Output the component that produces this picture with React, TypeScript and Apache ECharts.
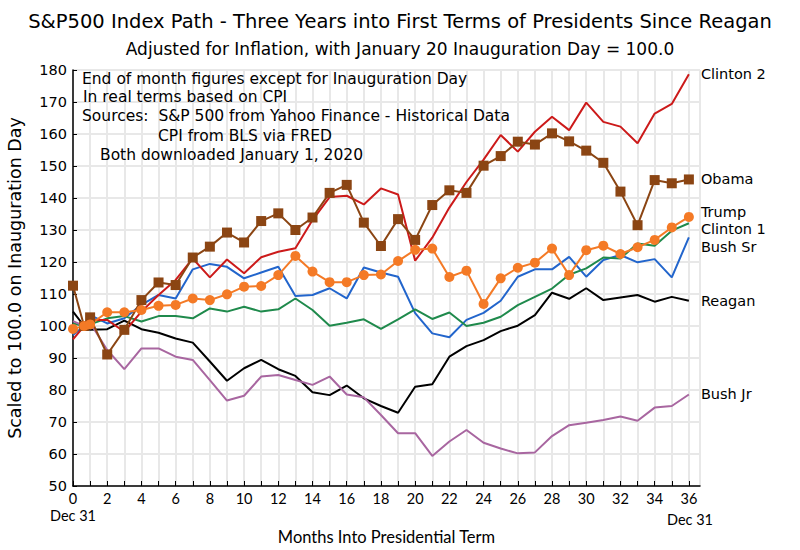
import React, { useEffect, useRef } from "react";
import * as echarts from "echarts";

const months = [0, 0.65, 1, 2, 3, 4, 5, 6, 7, 8, 9, 10, 11, 12, 13, 14, 15, 16, 17, 18, 19, 20, 21, 22, 23, 24, 25, 26, 27, 28, 29, 30, 31, 32, 33, 34, 35, 36];

const reagan = [104.5, 100, 98.8, 99, 101.7, 99, 97.9, 96.1, 94.8, 88.9, 82.9, 86.8, 89.4, 86.5, 84.4, 79.3, 78.4, 81.4, 77.4, 75, 72.9, 81, 81.8, 90.4, 93.7, 95.6, 98.4, 100.1, 103.4, 110.4, 108.5, 111.8, 108.1, 108.9, 109.7, 107.6, 109.1, 107.9];
const bushSr = [97.2, 100, 103.4, 100.8, 102.4, 106.6, 109.7, 108.6, 117.7, 119.4, 118.5, 114.9, 116.7, 118.5, 109.4, 109.7, 111.8, 108.6, 118.3, 116.7, 115.4, 104, 97.7, 96.5, 101.9, 104.1, 107.9, 115.4, 117.7, 117.7, 121.6, 115.4, 120.6, 122.2, 119.9, 120.9, 115.2, 127.7];
const clinton1 = [100.8, 100, 100.5, 102.4, 103.1, 101.4, 103.1, 103.1, 102.4, 105.5, 104.5, 106, 104.5, 105.2, 108.6, 105, 100.1, 101, 102.1, 99.1, 102.1, 105.2, 102.2, 104.2, 100, 101, 102.9, 106.5, 109.1, 111.7, 116, 118, 121.4, 121.1, 125.8, 125.1, 129.8, 132.1];
const clinton2 = [95.8, 100, 101.9, 101.9, 98.2, 104.5, 109.7, 114.4, 121.1, 115.2, 120.8, 116.5, 121.5, 123.2, 124.3, 133.1, 140.3, 140.7, 138, 143, 141.1, 120.4, 127.6, 137, 145, 152, 159.7, 154.5, 160.7, 165.4, 161.2, 169.8, 163.8, 162.3, 157.1, 166.4, 169.4, 178.7];
const bushJr = [101.5, 100, 101, 92.5, 86.5, 93, 93, 90.4, 89.4, 83.1, 76.7, 78.2, 84.2, 84.7, 83.1, 81.6, 84.2, 78.6, 77.7, 72.2, 66.5, 66.5, 59.4, 63.9, 67.5, 63.5, 61.7, 60.2, 60.5, 65.6, 69, 69.8, 70.6, 71.7, 70.4, 74.5, 75, 78.6];
const obama = [112.6, 100, 102.7, 91.1, 98.8, 108.1, 113.6, 112.8, 121.4, 124.8, 129.2, 126.1, 132.8, 135.2, 130, 133.9, 141.6, 144.1, 132.3, 125, 133.4, 126.9, 137.8, 142.4, 141.6, 150.1, 153.1, 157.6, 156.7, 160.2, 157.7, 154.8, 151, 142, 131.5, 145.6, 144.6, 145.8];
const trump = [99.1, 100, 100.5, 104.3, 104.3, 105, 106.3, 106.6, 108.6, 108.1, 109.9, 112.3, 112.5, 115.9, 121.9, 117, 113.7, 113.7, 115.9, 116.1, 120.3, 123.8, 124.2, 115.3, 117.3, 106.9, 114.9, 118.2, 119.8, 124.2, 115.9, 123.7, 125.1, 122.5, 124.6, 126.9, 130.8, 134.1];

const seriesNames = ["Reagan", "Bush Sr", "Clinton 1", "Clinton 2", "Bush Jr", "Obama", "Trump"];
const annotationLines = [
  "End of month figures except for Inauguration Day",
  "In real terms based on CPI",
  "Sources:  S&P 500 from Yahoo Finance - Historical Data",
  "CPI from BLS via FRED",
  "Both downloaded January 1, 2020",
];
const dateNotes = ["Dec 31", "Dec 31"];

const FONT = "DejaVu Sans";
const NARROW = "Lato";

export default function App() {
  const ref = useRef<HTMLDivElement>(null);
  useEffect(() => {
    if (!ref.current) return;
    const chart = echarts.init(ref.current, null, { renderer: "svg" });
    const pts = (vals: number[]) => months.map((m, i) => [m, vals[i]]);
    const mk = (name: string, vals: number[], color: string, extra: any = {}, labelOffset = [0, 0]) => ({
      name,
      type: "line",
      data: pts(vals),
      showSymbol: false,
      symbol: "none",
      lineStyle: { color, width: 2 },
      itemStyle: { color },
      endLabel: {
        show: true,
        formatter: name,
        color: "#000",
        fontFamily: FONT,
        fontSize: 14.5,
        lineHeight: 15,
        distance: 12,
        offset: labelOffset,
      },
      emphasis: { disabled: true },
      ...extra,
    });
    const option: any = {
      animation: false,
      backgroundColor: "#fff",
      textStyle: { fontFamily: FONT },
      title: [
        {
          text: "S&P500 Index Path - Three Years into First Terms of Presidents Since Reagan",
          left: "center",
          top: 6,
          textStyle: { fontFamily: FONT, fontSize: 19.5, fontWeight: "normal", color: "#000" },
        },
        {
          text: "Adjusted for Inflation, with January 20 Inauguration Day = 100.0",
          left: "center",
          top: 35,
          textStyle: { fontFamily: FONT, fontSize: 17, fontWeight: "normal", color: "#000" },
        },
      ],
      grid: { left: 73, right: 100, top: 70, bottom: 64, containLabel: false, outerBoundsMode: "none" },
      xAxis: {
        type: "value",
        min: 0,
        max: 36.65,
        interval: 1,
        name: "Months Into Presidential Term",
        nameLocation: "middle",
        nameGap: 42,
        nameTextStyle: { fontFamily: NARROW, fontSize: 16.5, color: "#000" },
        axisLine: { show: true, lineStyle: { color: "#000", width: 1.5 } },
        axisTick: { show: true, inside: true, length: 5, lineStyle: { color: "#000" } },
        axisLabel: {
          fontFamily: NARROW,
          fontSize: 14.5,
          lineHeight: 15,
          color: "#000",
          margin: 5,
          showMaxLabel: false,
          formatter: (v: number) => {
            const n = Math.round(v);
            if (Math.abs(v - n) > 1e-6 || n % 2 !== 0) return "";
            return String(n);
          },
        },
        splitLine: { show: true, lineStyle: { color: "#e8e8e8", width: 2 } },
      },
      yAxis: {
        type: "value",
        min: 50,
        max: 180,
        interval: 10,
        name: "Scaled to 100.0 on Inauguration Day",
        nameLocation: "middle",
        nameGap: 49,
        nameRotate: 90,
        nameTextStyle: { fontFamily: FONT, fontSize: 17.5, color: "#000" },
        axisLine: { show: true, lineStyle: { color: "#000", width: 1.5 } },
        axisTick: { show: true, inside: true, length: 4, lineStyle: { color: "#000" } },
        axisLabel: { fontFamily: FONT, fontSize: 14.5, color: "#000", margin: 6 },
        splitLine: { show: true, lineStyle: { color: "#e8e8e8", width: 2 } },
      },
      graphic: [
        ...annotationLines.map((t, i) => ({
          type: "text",
          left: [82, 83, 82, 158, 100][i],
          top: [71, 89, 108, 128, 147][i],
          style: { text: t, fontFamily: FONT, fontSize: 15.5, fill: "#000" },
          z: 10,
        })),
        ...dateNotes.map((t, i) => ({
          type: "text",
          x: [73, 690][i],
          y: [515, 519][i],
          style: {
            text: t,
            fontFamily: NARROW,
            fontSize: 14.5,
            fill: "#000",
            align: "center",
            verticalAlign: "middle",
          },
          z: 10,
        })),
      ],
      series: [
        mk(seriesNames[0], reagan, "#000000"),
        mk(seriesNames[1], bushSr, "#2265cc", {}, [0, 10]),
        mk(seriesNames[2], clinton1, "#1f8a4c", {}, [0, 6]),
        mk(seriesNames[3], clinton2, "#cc1a1a"),
        mk(seriesNames[4], bushJr, "#a866a0"),
        mk(seriesNames[5], obama, "#8b4513", { showSymbol: true, symbol: "rect", symbolSize: 10 }),
        mk(seriesNames[6], trump, "#f47a26", { showSymbol: true, symbol: "circle", symbolSize: 10 }, [0, -5]),
      ],
    };
    chart.setOption(option);
    return () => chart.dispose();
  }, []);
  return (
    <div
      ref={ref}
      style={{ position: "fixed", left: 0, top: 0, width: 800, height: 550 }}
    />
  );
}
